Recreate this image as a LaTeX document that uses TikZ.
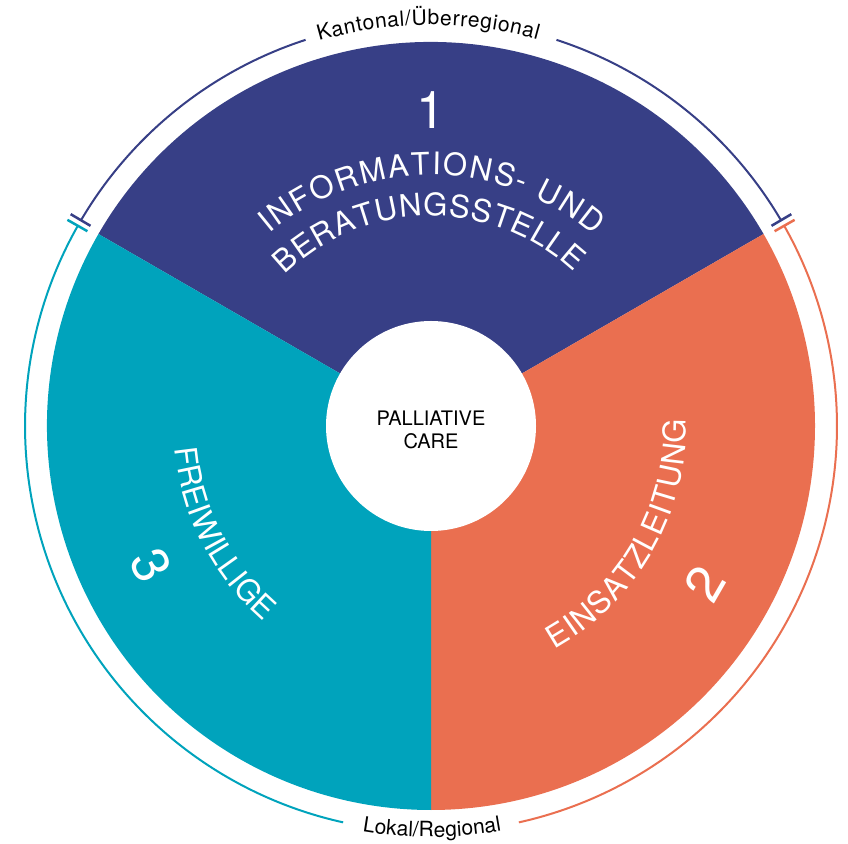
\documentclass[tikz,border=0pt]{standalone}
\usepackage{fontspec}
\setmainfont{TeX Gyre Heros}
\usepackage{tikz}
\usetikzlibrary{decorations.text}

\newcommand\ringfont{\fontsize{21}{21}\selectfont}
\newcommand\segfont{\fontsize{31}{31}\selectfont}

\begin{document}
\begin{tikzpicture}
			[x=1pt,y=1pt,line cap=butt,
			%Styles
			ring arc/.style={line width=2pt},
			ring tick/.style={line width=2.5pt},
			number/.style={text=white,font=\fontsize{52}{52}\selectfont,inner sep=0pt},
			curved text/.style 2 args={decorate,decoration={text along path,text align=fit to path,text color=#1,text={#2}}}
			]
			
			%Colors
			\definecolor{infoblue}{HTML}{373F86}
			\definecolor{einsatzorange}{HTML}{EA6F50}
			\definecolor{freiteal}{HTML}{00A3BC}
			
			\useasboundingbox (0,0) rectangle (848,843);
			
			%The graphic
			\begin{scope}[shift={(431,417)}]
			\fill[infoblue] (0,0) -- (30:384) arc[start angle=30,end angle=150,radius=384] -- cycle;
			\fill[einsatzorange] (0,0) -- (-90:384) arc[start angle=-90,end angle=30,radius=384] -- cycle;
			\fill[freiteal] (0,0) -- (150:384) arc[start angle=150,end angle=270,radius=384] -- cycle;
			\fill[white] (0,0) circle[radius=105];
			\node[font=\fontsize{20}{23}\selectfont,align=center] (care) at (0,-4) {PALLIATIVE\\CARE};
			
			%outer ring
			\draw[ring arc,infoblue] (30.45:406) arc[start angle=30.45,end angle=72,radius=406];
			\draw[ring arc,infoblue] (108:406) arc[start angle=108,end angle=149.55,radius=406];
			\draw[ring tick,infoblue] (30.45:395) -- (30.45:418);
			\draw[ring tick,infoblue] (149.55:395) -- (149.55:418);
			\draw[ring arc,freiteal] (150.45:406) arc[start angle=150.45,end angle=257.5,radius=406];
			\draw[ring tick,freiteal] (150.45:395) -- (150.45:418);
			\draw[ring arc,einsatzorange] (-77.5:406) arc[start angle=-77.5,end angle=29.55,radius=406];
			\draw[ring tick,einsatzorange] (29.55:395) -- (29.55:418);
			
			\path[curved text={black}{|\ringfont|Kantonal/Überregional}] (106.2:401) arc[start angle=106.2,end angle=74.6,radius=401];
			\path[curved text={black}{|\ringfont|Lokal/Regional}] (260.4:411) arc[start angle=260.4,end angle=279.9,radius=411];
			
			%segments
			\node[number] (one) at (90:316) {1};
			\node[number,rotate=60] (two) at (-30:316) {2};
			\node[number,rotate=-63.5] (three) at (206.5:313) {3};
			
			\path[curved text={white}{|\segfont|INFORMATIONS- UND}] (130:251) arc[start angle=130,end angle=49.5,radius=251];
			\path[curved text={white}{|\segfont|BERATUNGSSTELLE}] (134:210) arc[start angle=134,end angle=47,radius=210];
			\path[curved text={white}{|\segfont|EINSATZLEITUNG}] (-61:255) arc[start angle=-61,end angle=1.5,radius=255];
			\path[curved text={white}{|\segfont|FREIWILLIGE}] (185:257) arc[start angle=185,end angle=229.4,radius=257];
			\end{scope}
\end{tikzpicture}
\end{document}
